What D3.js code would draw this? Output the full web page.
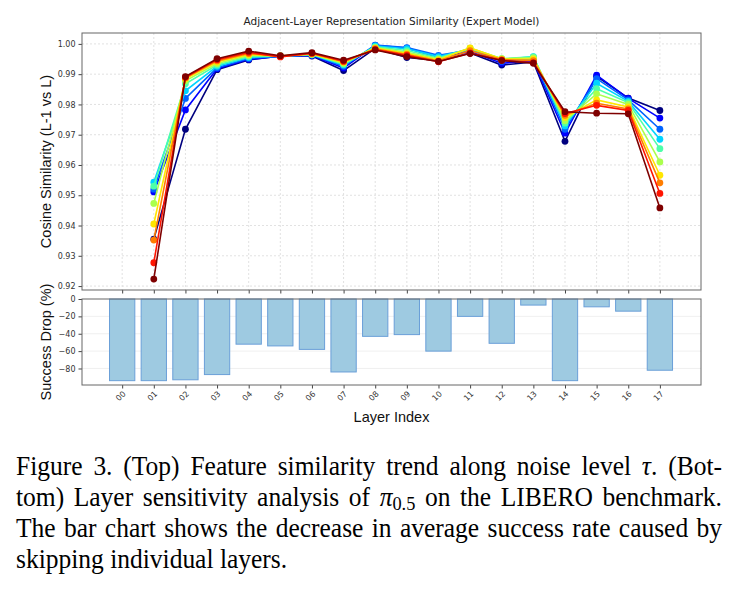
<!DOCTYPE html>
<html>
<head>
<meta charset="utf-8">
<script src="https://cdn.jsdelivr.net/npm/d3@7"></script>
<style>
  body { margin: 0; background: #fff; }
  svg { display: block; }
</style>
</head>
<body>
<div id="chart"></div>
<script>
// layer labels
const layerLabels = ["00","01","02","03","04","05","06","07","08","09","10","11","12","13","14","15","16","17"];
const simLayers = ["01","02","03","04","05","06","07","08","09","10","11","12","13","14","15","16","17"];

// cosine similarity per noise level (navy -> dark red)
const sim0 = [0.9355,0.9718,0.9915,0.9947,0.9960,0.9960,0.9912,0.9985,0.9955,0.9945,0.9970,0.9930,0.9940,0.9678,0.9893,0.9821,0.9780];
const sim1 = [0.9511,0.9782,0.9918,0.9949,0.9959,0.9962,0.9920,0.9995,0.9986,0.9955,0.9975,0.9936,0.9944,0.9705,0.9897,0.9820,0.9755];
const sim2 = [0.9520,0.9820,0.9921,0.9952,0.9959,0.9963,0.9926,0.9996,0.9988,0.9962,0.9980,0.9942,0.9950,0.9718,0.9885,0.9815,0.9718];
const sim3 = [0.9543,0.9845,0.9926,0.9955,0.9959,0.9964,0.9930,0.9993,0.9984,0.9958,0.9983,0.9948,0.9958,0.9729,0.9870,0.9810,0.9685];
const sim4 = [0.9530,0.9868,0.9930,0.9958,0.9960,0.9965,0.9933,0.9990,0.9978,0.9953,0.9985,0.9951,0.9957,0.9738,0.9852,0.9806,0.9654];
const sim5 = [0.9473,0.9878,0.9935,0.9962,0.9960,0.9966,0.9936,0.9988,0.9972,0.9950,0.9986,0.9951,0.9954,0.9746,0.9835,0.9800,0.9610];
const sim6 = [0.9405,0.9885,0.9940,0.9965,0.9960,0.9967,0.9939,0.9986,0.9968,0.9947,0.9987,0.9950,0.9950,0.9757,0.9815,0.9792,0.9566];
const sim7 = [0.9352,0.9888,0.9944,0.9968,0.9959,0.9968,0.9941,0.9984,0.9965,0.9944,0.9978,0.9948,0.9945,0.9764,0.9804,0.9785,0.9541];
const sim8 = [0.9277,0.9890,0.9948,0.9972,0.9957,0.9969,0.9943,0.9981,0.9962,0.9941,0.9970,0.9946,0.9938,0.9770,0.9797,0.9780,0.9506];
const sim9 = [0.9223,0.9892,0.9951,0.9976,0.9961,0.9971,0.9946,0.9980,0.9958,0.9942,0.9968,0.9945,0.9936,0.9776,0.9771,0.9769,0.9458];
const simSeries = [sim0, sim1, sim2, sim3, sim4, sim5, sim6, sim7, sim8, sim9];

// success drop (%) when skipping each layer
const successDrop = [-94,-94,-93,-87,-52,-54,-58,-84,-43,-41,-60,-20,-51,-7,-94,-9,-14,-82];

const simTicks = [0.92,0.93,0.94,0.95,0.96,0.97,0.98,0.99,1.00];
const dropTicks = [0,-20,-40,-60,-80];

// jet colours sampled at 10 steps
const jetColors = ["#00007f","#0000ff","#0063ff","#00d4ff","#4dffaa","#aaff4d","#ffe600","#ff7d00","#ff1400","#7f0000"];

const W = 740, H = 602;
const svg = d3.select('#chart').append('svg').attr('width', W).attr('height', H);

const plotL = 82, plotR = 701;
const top1 = 33, bot1 = 290;
const top2 = 299, bot2 = 385;

const x = d3.scaleLinear().domain([-1.27, 18.3]).range([plotL, plotR]);
const y1 = d3.scaleLinear().domain([0.9187, 1.0036]).range([bot1, top1]);
const y2 = d3.scaleLinear().domain([-99, 0]).range([bot2, top2]);

const tickFont = "DejaVu Sans, sans-serif";
const labelFont = "Liberation Sans, Arial, sans-serif";

// ---------- top panel ----------
const g1 = svg.append('g');

// grid
g1.append('g').selectAll('line').data(simTicks).join('line')
    .attr('x1', plotL).attr('x2', plotR)
    .attr('y1', d => y1(d)).attr('y2', d => y1(d))
    .attr('stroke', '#d9d9d9').attr('stroke-width', 0.8).attr('stroke-dasharray', '2,2');
g1.append('g').selectAll('line').data(layerLabels).join('line')
    .attr('x1', (d, i) => x(i)).attr('x2', (d, i) => x(i))
    .attr('y1', top1).attr('y2', bot1)
    .attr('stroke', '#d9d9d9').attr('stroke-width', 0.8).attr('stroke-dasharray', '2,2');

// axes
const yAxis1 = g1.append('g').attr('transform', `translate(${plotL},0)`)
    .call(d3.axisLeft(y1).tickValues(simTicks).tickFormat(d3.format('.2f')).tickSize(3.5).tickPadding(3));
const xAxis1 = g1.append('g').attr('transform', `translate(0,${bot1})`)
    .call(d3.axisBottom(x).tickValues(d3.range(layerLabels.length)).tickFormat('').tickSize(3.5));
[yAxis1, xAxis1].forEach(a => {
    a.select('.domain').remove();
    a.selectAll('line').attr('stroke', '#444');
    a.selectAll('text').attr('fill', '#333').style('font-family', tickFont).style('font-size', '8px');
});

// lines
const line = d3.line().x((d, i) => x(i + 1)).y(d => y1(d));
simSeries.forEach((s, k) => {
    const gs = g1.append('g');
    gs.append('path').datum(s)
        .attr('d', line).attr('fill', 'none')
        .attr('stroke', jetColors[k]).attr('stroke-width', 1.6);
    gs.selectAll('circle').data(s).join('circle')
        .attr('cx', (d, i) => x(i + 1)).attr('cy', d => y1(d))
        .attr('r', 3.4).attr('fill', jetColors[k]);
});

g1.append('rect').attr('x', plotL).attr('y', top1)
    .attr('width', plotR - plotL).attr('height', bot1 - top1)
    .attr('fill', 'none').attr('stroke', '#666').attr('stroke-width', 1);

svg.append('text')
    .attr('x', (plotL + plotR) / 2).attr('y', 25)
    .attr('text-anchor', 'middle')
    .style('font-family', tickFont).style('font-size', '10.5px').attr('fill', '#222')
    .text('Adjacent-Layer Representation Similarity (Expert Model)');

svg.append('text')
    .attr('transform', `translate(51,${(top1 + bot1) / 2}) rotate(-90)`)
    .attr('text-anchor', 'middle')
    .style('font-family', labelFont).style('font-size', '14.5px').attr('fill', '#111')
    .text('Cosine Similarity (L-1 vs L)');

// ---------- bottom panel ----------
const g2 = svg.append('g');

g2.append('g').selectAll('line').data(dropTicks.slice(1)).join('line')
    .attr('x1', plotL).attr('x2', plotR)
    .attr('y1', d => y2(d)).attr('y2', d => y2(d))
    .attr('stroke', '#ececec').attr('stroke-width', 0.8);

g2.selectAll('rect.bar').data(successDrop).join('rect')
    .attr('class', 'bar')
    .attr('x', (d, i) => x(i - 0.4))
    .attr('width', x(0.8) - x(0))
    .attr('y', y2(0))
    .attr('height', d => y2(d) - y2(0))
    .attr('fill', '#9ecae1')
    .attr('stroke', '#6a9fd8').attr('stroke-width', 1);

const yAxis2 = g2.append('g').attr('transform', `translate(${plotL},0)`)
    .call(d3.axisLeft(y2).tickValues(dropTicks).tickFormat(d => d3.format('d')(d).replace('-', '\u2212')).tickSize(3.5).tickPadding(3));
const xAxis2 = g2.append('g').attr('transform', `translate(0,${bot2})`)
    .call(d3.axisBottom(x).tickValues(d3.range(layerLabels.length)).tickFormat(i => layerLabels[i]).tickSize(3.5).tickPadding(3));
[yAxis2, xAxis2].forEach(a => {
    a.select('.domain').remove();
    a.selectAll('line').attr('stroke', '#444');
    a.selectAll('text').attr('fill', '#333').style('font-family', tickFont).style('font-size', '8px');
});
xAxis2.selectAll('text')
    .attr('text-anchor', 'middle')
    .attr('dy', 0)
    .attr('y', 0)
    .attr('transform', 'translate(0,13) rotate(-45)');

g2.append('rect').attr('x', plotL).attr('y', top2)
    .attr('width', plotR - plotL).attr('height', bot2 - top2)
    .attr('fill', 'none').attr('stroke', '#666').attr('stroke-width', 1);

svg.append('text')
    .attr('transform', `translate(51,${(top2 + bot2) / 2}) rotate(-90)`)
    .attr('text-anchor', 'middle')
    .style('font-family', labelFont).style('font-size', '14.5px').attr('fill', '#111')
    .text('Success Drop (%)');

svg.append('text')
    .attr('x', (plotL + plotR) / 2).attr('y', 422)
    .attr('text-anchor', 'middle')
    .style('font-family', labelFont).style('font-size', '14.5px').attr('fill', '#111')
    .text('Layer Index');

// ---------- caption (justified) ----------
const capFont = "Liberation Serif, Times New Roman, serif";
const capSize = 25.5;
const capStretch = 1.04;
const capLeft = 16, capRight = 722;
const capLines = [
    { y: 475, justify: true, words: [["Figure"],["3."],["(Top)"],["Feature"],["similarity"],["trend"],["along"],["noise"],["level"],[{t:"τ", it:true},{t:"."}],["(Bot-"]] },
    { y: 506, justify: true, words: [["tom)"],["Layer"],["sensitivity"],["analysis"],["of"],[{t:"π", it:true},{t:"0.5", sub:true}],["on"],["the"],["LIBERO"],["benchmark."]] },
    { y: 537, justify: true, words: [["The"],["bar"],["chart"],["shows"],["the"],["decrease"],["in"],["average"],["success"],["rate"],["caused"],["by"]] },
    { y: 568, justify: false, words: [["skipping"],["individual"],["layers."]] }
];

const cap = svg.append('g').style('font-family', capFont).style('font-size', capSize + 'px').attr('fill', '#000');
capLines.forEach(ln => {
    const row = cap.append('g').attr('transform', `translate(0,${ln.y}) scale(1,${capStretch})`);
    const nodes = ln.words.map(parts => {
        const t = row.append('text').attr('y', 0);
        parts.forEach(p => {
            if (typeof p === 'string') { t.append('tspan').text(p); return; }
            const ts = t.append('tspan').text(p.t);
            if (p.it) ts.style('font-style', 'italic');
            if (p.sub) ts.style('font-size', (capSize * 0.72) + 'px').attr('dy', 4);
        });
        return t;
    });
    const widths = nodes.map(n => n.node().getComputedTextLength());
    const total = d3.sum(widths);
    const gap = ln.justify ? Math.max(3, (capRight - capLeft - total) / (nodes.length - 1)) : capSize * 0.25;
    let cx = capLeft;
    nodes.forEach((n, i) => { n.attr('x', cx); cx += widths[i] + gap; });
});
</script>
</body>
</html>
